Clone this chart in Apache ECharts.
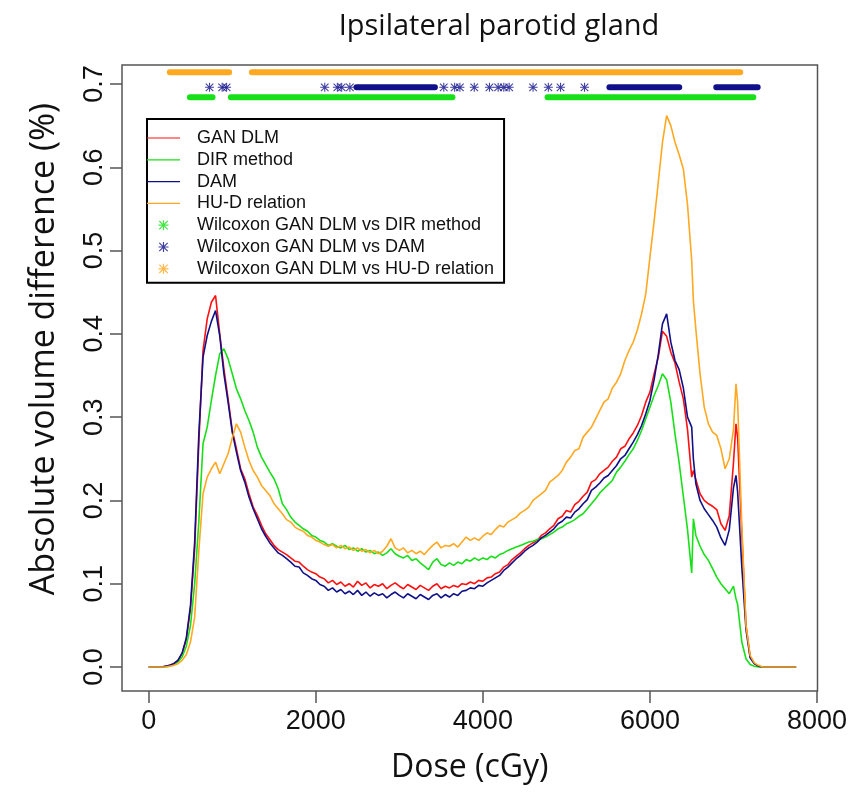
<!DOCTYPE html>
<html><head><meta charset="utf-8">
<script src="https://cdn.jsdelivr.net/npm/echarts@6/dist/echarts.min.js"></script>
<style>html,body{margin:0;padding:0;background:#fff}#c{width:853px;height:792px}</style>
</head><body><div id="c"></div>
<script>
// ---- data ----
const dose = [
  0,50,100,150,200,250,300,350,400,450,
  500,550,600,650,700,750,800,850,900,950,
  1000,1050,1100,1150,1200,1250,1300,1350,1400,1450,
  1500,1550,1600,1650,1700,1750,1800,1850,1900,1950,
  2000,2050,2100,2150,2200,2250,2300,2350,2400,2450,
  2500,2550,2600,2650,2700,2750,2800,2850,2900,2950,
  3000,3050,3100,3150,3200,3250,3300,3350,3400,3450,
  3500,3550,3600,3650,3700,3750,3800,3850,3900,3950,
  4000,4050,4100,4150,4200,4250,4300,4350,4400,4450,
  4500,4550,4600,4650,4700,4750,4800,4850,4900,4950,
  5000,5050,5100,5150,5200,5250,5300,5350,5400,5450,
  5500,5550,5600,5650,5700,5750,5800,5850,5900,5950,
  6000,6050,6100,6150,6200,6250,6300,6350,6400,6450,
  6500,6520,6550,6600,6650,6700,6750,6800,6850,6900,6950,
  7000,7030,7050,7100,7150,7200,7250,7300,7350,7400,7450,
  7500,7550,7600,7650,7700,7750
];
const ganDLM = [
  0,0,0,0,0.001,0.002,0.004,0.008,0.016,0.033,
  0.070,0.142,0.270,0.380,0.418,0.438,0.446,0.400,0.358,0.322,
  0.284,0.262,0.238,0.226,0.208,0.192,0.182,0.170,0.160,0.153,
  0.146,0.141,0.138,0.135,0.131,0.127,0.126,0.121,0.117,0.114,
  0.112,0.108,0.106,0.101,0.104,0.099,0.102,0.097,0.100,0.096,
  0.103,0.098,0.101,0.095,0.099,0.097,0.100,0.094,0.098,0.101,
  0.097,0.094,0.099,0.096,0.093,0.098,0.095,0.092,0.097,0.100,
  0.094,0.097,0.095,0.098,0.096,0.100,0.099,0.102,0.100,0.104,
  0.103,0.107,0.108,0.112,0.114,0.120,0.123,0.129,0.133,0.137,
  0.142,0.146,0.149,0.152,0.158,0.161,0.166,0.170,0.178,0.181,
  0.188,0.186,0.195,0.199,0.205,0.210,0.222,0.225,0.232,0.236,
  0.240,0.247,0.252,0.262,0.265,0.274,0.281,0.290,0.302,0.318,
  0.330,0.352,0.372,0.403,0.397,0.378,0.365,0.342,0.322,0.285,
  0.228,0.236,0.225,0.208,0.200,0.196,0.193,0.189,0.172,0.164,0.182,
  0.245,0.292,0.275,0.160,0.050,0.012,0.004,0.001,0,0,0,
  0,0,0,0,0,0
];
const dirMethod = [
  0,0,0,0,0,0.001,0.003,0.006,0.012,0.025,
  0.050,0.100,0.175,0.268,0.288,0.320,0.350,0.376,0.382,0.370,
  0.352,0.334,0.322,0.308,0.296,0.282,0.264,0.252,0.243,0.234,
  0.226,0.214,0.196,0.189,0.180,0.174,0.170,0.166,0.163,0.158,
  0.156,0.152,0.150,0.146,0.148,0.145,0.143,0.146,0.141,0.143,
  0.139,0.142,0.138,0.140,0.136,0.138,0.134,0.137,0.142,0.136,
  0.133,0.131,0.134,0.128,0.130,0.125,0.121,0.117,0.126,0.130,
  0.123,0.121,0.125,0.122,0.126,0.124,0.129,0.127,0.131,0.128,
  0.131,0.129,0.133,0.131,0.135,0.137,0.140,0.142,0.144,0.146,
  0.148,0.150,0.151,0.153,0.154,0.156,0.159,0.162,0.166,0.168,
  0.172,0.174,0.177,0.181,0.184,0.190,0.196,0.202,0.209,0.214,
  0.219,0.224,0.234,0.240,0.247,0.255,0.262,0.272,0.284,0.298,
  0.312,0.326,0.338,0.352,0.345,0.318,0.280,0.245,0.205,0.165,
  0.113,0.178,0.158,0.145,0.135,0.128,0.118,0.108,0.100,0.094,0.088,
  0.097,0.082,0.075,0.030,0.010,0.003,0.001,0,0,0,0,
  0,0,0,0,0,0
];
const dam = [
  0,0,0,0,0.001,0.002,0.004,0.008,0.017,0.035,
  0.074,0.150,0.280,0.372,0.398,0.415,0.428,0.398,0.352,0.318,
  0.282,0.258,0.236,0.222,0.204,0.190,0.178,0.166,0.157,0.149,
  0.143,0.137,0.134,0.130,0.126,0.121,0.120,0.113,0.110,0.106,
  0.104,0.099,0.097,0.092,0.095,0.090,0.093,0.088,0.091,0.087,
  0.092,0.086,0.090,0.085,0.089,0.086,0.088,0.083,0.087,0.090,
  0.086,0.083,0.088,0.085,0.082,0.087,0.084,0.081,0.086,0.088,
  0.083,0.087,0.084,0.088,0.086,0.091,0.092,0.095,0.094,0.098,
  0.097,0.101,0.104,0.107,0.110,0.116,0.120,0.125,0.130,0.134,
  0.139,0.143,0.146,0.150,0.155,0.158,0.162,0.166,0.172,0.175,
  0.180,0.179,0.186,0.190,0.196,0.201,0.212,0.216,0.221,0.227,
  0.230,0.236,0.242,0.250,0.254,0.262,0.270,0.279,0.290,0.304,
  0.320,0.345,0.375,0.412,0.424,0.390,0.368,0.357,0.335,0.300,
  0.288,0.250,0.220,0.200,0.190,0.183,0.176,0.168,0.155,0.146,0.165,
  0.215,0.230,0.210,0.120,0.045,0.011,0.004,0.001,0,0,0,
  0,0,0,0,0,0
];
const huDRelation = [
  0,0,0,0,0,0.001,0.002,0.004,0.008,0.015,
  0.030,0.060,0.140,0.208,0.228,0.238,0.246,0.232,0.244,0.256,
  0.275,0.292,0.282,0.264,0.248,0.236,0.228,0.218,0.212,0.206,
  0.196,0.190,0.184,0.177,0.174,0.168,0.165,0.163,0.158,0.156,
  0.152,0.150,0.147,0.145,0.147,0.143,0.146,0.142,0.144,0.140,
  0.143,0.139,0.141,0.137,0.140,0.136,0.139,0.145,0.154,0.143,
  0.140,0.143,0.137,0.140,0.136,0.139,0.135,0.141,0.146,0.150,
  0.143,0.146,0.145,0.148,0.144,0.150,0.156,0.152,0.155,0.152,
  0.157,0.161,0.159,0.165,0.170,0.168,0.174,0.177,0.180,0.185,
  0.188,0.192,0.200,0.204,0.208,0.212,0.222,0.226,0.230,0.236,
  0.246,0.252,0.260,0.262,0.276,0.282,0.288,0.298,0.308,0.318,
  0.322,0.335,0.342,0.352,0.368,0.380,0.390,0.405,0.424,0.448,
  0.492,0.535,0.582,0.630,0.662,0.650,0.630,0.615,0.598,0.555,
  0.488,0.440,0.405,0.352,0.312,0.292,0.282,0.278,0.262,0.238,0.250,
  0.285,0.340,0.318,0.170,0.050,0.014,0.005,0.002,0,0,0,
  0,0,0,0,0,0
];
// Wilcoxon significance marks (dose ranges / single doses), drawn at fixed levels
const sigDIRRuns = [[493,764],[983,3636],[4774,7238]];
const sigDIRSingles = [];
const sigDAMRuns = [[2487,3426],[5515,6351],[6794,7290]];
const sigDAMSingles = [728,879,932,2107,2258,2310,2408,3532,3662,3725,3897,4079,4183,4251,4315,4601,4784,4930,5217];
const sigHUDRuns = [[253,963],[1235,7081]];
const sigHUDSingles = [];
const sigLevelDIR = 0.684, sigLevelDAM = 0.696, sigLevelHUD = 0.714;
const xTicks = [0,2000,4000,6000,8000];
const yTicks = [0,0.1,0.2,0.3,0.4,0.5,0.6,0.7];

// ---- build ----
const pair = (vals) => dose.map((d,i) => [d, vals[i]]);
const runData = (runs, lvl) => { const out=[]; runs.forEach(r => { out.push([r[0],lvl],[r[1],lvl],null); }); return out; };
const singleData = (xs, lvl) => xs.map(x => [x, lvl]);

const STAR = 'M0,4.4L10,4.4L10,5.6L0,5.6Z M4.4,0L5.6,0L5.6,10L4.4,10Z M1.22,0.38L9.62,8.78L8.78,9.62L0.38,1.22Z M8.78,0.38L9.62,1.22L1.22,9.62L0.38,8.78Z';
const STAR_ICON = 'path://' + STAR + ' M-4,-4 M14,14';
const LINE_ICON = 'path://M0,8.4L33,8.4L33,9.6L0,9.6Z M0,0 M33,18';

const cRed='#ff1010', cGreen='#18e018', cBlue='#10108a', cOrange='#ffa820';
const tickFont = "'Liberation Sans', Arial, sans-serif";
const titleFont = "'Open Sans', 'DejaVu Sans', sans-serif";

const lineS = (name, vals, color) => ({
  name, type:'line', data: pair(vals), symbol:'none', showSymbol:false,
  lineStyle:{color, width:1.6}, itemStyle:{color}, animation:false, z:3
});
const starS = (name, xs, lvl, color) => ({
  name, type:'scatter', data: singleData(xs, lvl), symbol:'path://'+STAR, symbolSize:9,
  itemStyle:{color}, animation:false, z:4
});
const runS = (name, runs, lvl, color) => ({
  name, type:'line', data: runData(runs, lvl), symbol:'none', showSymbol:false, connectNulls:false,
  lineStyle:{color, width:6, cap:'round'}, itemStyle:{color}, animation:false, z:4
});

const nDIR='Wilcoxon GAN DLM vs DIR method', nDAM='Wilcoxon GAN DLM vs DAM', nHUD='Wilcoxon GAN DLM vs HU-D relation';

const chart = echarts.init(document.getElementById('c'), null, {renderer:'canvas'});
chart.setOption({
  backgroundColor:'#fff',
  animation:false,
  title:{
    text:'Ipsilateral parotid gland', left:499, top:12, textAlign:'center', padding:0,
    textStyle:{fontFamily:titleFont, fontSize:29, fontWeight:'normal', color:'#111'}
  },
  grid:{left:122, right:35.5, top:65, bottom:101, show:true, borderColor:'#555', borderWidth:1.5, backgroundColor:'transparent', outerBoundsMode:'none'},
  xAxis:{
    type:'value', min:-320, max:8006,
    name:'Dose (cGy)', nameLocation:'middle', nameGap:61, nameMoveOverlap:false,
    nameTextStyle:{fontFamily:titleFont, fontSize:32, color:'#111'},
    axisLine:{show:false, onZero:false},
    axisTick:{show:true, inside:false, length:12, customValues:xTicks, lineStyle:{color:'#555', width:1.5}},
    axisLabel:{show:true, customValues:xTicks, margin:17, fontFamily:tickFont, fontSize:27, color:'#111',
      formatter:(v)=>String(v)},
    splitLine:{show:false}
  },
  yAxis:{
    type:'value', min:-0.0288, max:0.7228,
    axisLine:{show:false, onZero:false},
    axisTick:{show:true, inside:false, length:12, customValues:yTicks, lineStyle:{color:'#555', width:1.5}},
    axisLabel:{show:true, customValues:yTicks, rotate:90, margin:14, fontFamily:tickFont, fontSize:27, color:'#111',
      formatter:(v)=>v.toFixed(1)},
    splitLine:{show:false}
  },
  legend:{
    orient:'vertical', left:147, top:119, selectedMode:false,
    backgroundColor:'#fff', borderColor:'#000', borderWidth:2,
    padding:[10,10,5,0], itemGap:3.8, itemWidth:33, itemHeight:18,
    textStyle:{fontFamily:tickFont, fontSize:18, lineHeight:18, color:'#111', padding:[0,0,0,12]},
    data:[
      {name:'GAN DLM', icon:LINE_ICON},{name:'DIR method', icon:LINE_ICON},{name:'DAM', icon:LINE_ICON},{name:'HU-D relation', icon:LINE_ICON},
      {name:nDIR, icon:STAR_ICON},{name:nDAM, icon:STAR_ICON},{name:nHUD, icon:STAR_ICON}
    ]
  },
  graphic:[{
    type:'text', x:44, y:349, rotation:Math.PI/2,
    style:{text:'Absolute volume difference (%)', fontFamily:titleFont, fontSize:34, fill:'#111', align:'center', verticalAlign:'middle'}
  }],
  series:[
    lineS('GAN DLM', ganDLM, cRed),
    lineS('DIR method', dirMethod, cGreen),
    lineS('DAM', dam, cBlue),
    lineS('HU-D relation', huDRelation, cOrange),
    starS(nDIR, sigDIRSingles, sigLevelDIR, cGreen),
    runS(nDIR, sigDIRRuns, sigLevelDIR, cGreen),
    starS(nDAM, sigDAMSingles, sigLevelDAM, cBlue),
    runS(nDAM, sigDAMRuns, sigLevelDAM, cBlue),
    starS(nHUD, sigHUDSingles, sigLevelHUD, cOrange),
    runS(nHUD, sigHUDRuns, sigLevelHUD, cOrange)
  ]
});
</script></body></html>
